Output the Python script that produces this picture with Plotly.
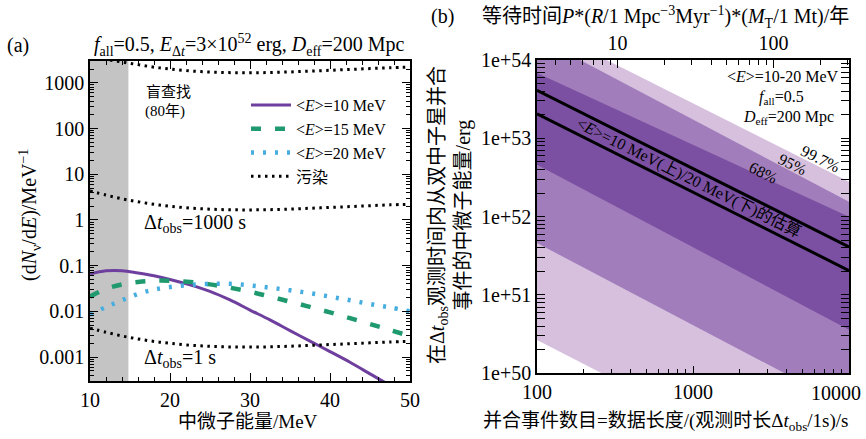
import math
import plotly.graph_objects as go

# ---------------- data: panel (a) ----------------
ENERGY_MEV = [10, 12, 14, 16, 18, 20, 22.5, 25, 27.5, 30, 32.5, 35, 37.5, 40, 42.5, 45, 47.5, 50]
SPEC_E10 = [0.066, 0.077, 0.0776, 0.069, 0.060, 0.050, 0.038, 0.0275, 0.0178, 0.0107, 0.0065,
            0.0038, 0.00224, 0.00132, 0.00077, 0.00043, 0.00024, 0.00013]
SPEC_E15 = [0.021, 0.031, 0.039, 0.044, 0.047, 0.047, 0.044, 0.039, 0.033, 0.027, 0.021,
            0.0163, 0.0125, 0.0095, 0.0071, 0.0053, 0.0039, 0.0029]
SPEC_E20 = [0.0085, 0.0125, 0.0175, 0.024, 0.030, 0.034, 0.038, 0.040, 0.040, 0.037, 0.033,
            0.029, 0.025, 0.021, 0.0175, 0.0145, 0.0122, 0.0100]
CONTAM_1S = [0.0043, 0.0035, 0.0029, 0.0025, 0.0022, 0.0020, 0.00182, 0.00172, 0.00167, 0.00166,
             0.00168, 0.00173, 0.00180, 0.00188, 0.00196, 0.00205, 0.00214, 0.0022]
CONTAM_1000S = [4.3, 3.5, 2.9, 2.5, 2.2, 2.0, 1.82, 1.72, 1.67, 1.66,
                1.68, 1.73, 1.80, 1.88, 1.96, 2.05, 2.14, 2.2]
CONTAM_BLIND = [4300, 3300, 2850, 2500, 2200, 2000, 1820, 1720, 1670, 1660,
                1680, 1730, 1800, 1880, 1960, 2050, 2140, 2200]
BLIND_E_MAX = 14.8
LEFT_YTICKS = [0.001, 0.01, 0.1, 1, 10, 100, 1000]
LEFT_YTICKTEXT = ["0.001", "0.01", "0.1", "1", "10", "100", "1000"]

# ---------------- data: panel (b) ----------------
N_ENDS = [100, 10000]
EST_E10 = [4.1e53, 4.1e51]
EST_E20 = [2.05e53, 2.05e51]
BAND68_UP = [6.8e53, 1.0e52]
BAND68_LO = [4.6e52, 3.6e50]
BAND95_UP = [1.95e54, 1.55e52]
BAND95_LO = [4.6e51, 3.7e49]
BAND997_UP = [2.8e54, 2.8e52]
BAND997_LO = [2.66e50, 2.4e48]
RIGHT_YTICKS = [1e50, 1e51, 1e52, 1e53, 1e54]
RIGHT_YTICKTEXT = ["1e+50", "1e+51", "1e+52", "1e+53", "1e+54"]
RIGHT_XTICKS = [100, 1000, 10000]
RIGHT_XTICKTEXT = ["100", "1000", "10000"]
WAIT_RANGE = [3.05, 305]
TOP_TICKS = [10, 100]
TOP_TICKTEXT = ["10", "100"]

FONT = "Liberation Serif, Noto Sans CJK SC, serif"
W, H = 866, 439
PURPLE = "#6f3f9f"
GREEN = "#1f9a6e"
BLUE = "#45ade0"
C_LIGHT = "#d6c0de"
C_MED = "#a17dbb"
C_DARK = "#7b50a2"


def px(x):
    return x / W


def py(y):
    return 1 - y / H


def log_minor(lo, hi, mults=range(2, 10)):
    out = []
    for d in range(lo, hi + 1):
        for m in mults:
            out.append(float(m) * 10.0 ** d)
    return out


fig = go.Figure()

# panel (a)
fig.add_trace(go.Scatter(x=ENERGY_MEV, y=SPEC_E10, mode="lines", line=dict(color=PURPLE, width=3, shape="spline"),
                         name="&lt;<i>E</i>&gt;=10 MeV", xaxis="x", yaxis="y"))
fig.add_trace(go.Scatter(x=ENERGY_MEV, y=SPEC_E15, mode="lines",
                         line=dict(color=GREEN, width=4.5, dash="10px,14px", shape="spline"),
                         name="&lt;<i>E</i>&gt;=15 MeV", xaxis="x", yaxis="y"))
fig.add_trace(go.Scatter(x=ENERGY_MEV, y=SPEC_E20, mode="lines",
                         line=dict(color=BLUE, width=4.5, dash="3px,9px", shape="spline"),
                         name="&lt;<i>E</i>&gt;=20 MeV", xaxis="x", yaxis="y"))
for i, arr in enumerate([CONTAM_1S, CONTAM_1000S, CONTAM_BLIND]):
    fig.add_trace(go.Scatter(x=ENERGY_MEV, y=arr, mode="lines",
                             line=dict(color="black", width=3, dash="2.5px,4.5px", shape="spline"),
                             name="污染", showlegend=(i == 0), xaxis="x", yaxis="y"))

# panel (b) bands
for up, lo, col in [(BAND997_UP, BAND997_LO, C_LIGHT), (BAND95_UP, BAND95_LO, C_MED), (BAND68_UP, BAND68_LO, C_DARK)]:
    fig.add_trace(go.Scatter(x=N_ENDS + N_ENDS[::-1], y=up + lo[::-1], mode="lines", fill="toself",
                             fillcolor=col, line=dict(width=0, color=col), showlegend=False,
                             hoverinfo="skip", xaxis="x2", yaxis="y2"))
for est in [EST_E10, EST_E20]:
    fig.add_trace(go.Scatter(x=N_ENDS, y=est, mode="lines", line=dict(color="black", width=3),
                             showlegend=False, xaxis="x2", yaxis="y2"))
# invisible trace for the top (waiting time) axis
fig.add_trace(go.Scatter(x=WAIT_RANGE, y=[RIGHT_YTICKS[0], RIGHT_YTICKS[0]], mode="lines",
                         line=dict(width=0), opacity=0, showlegend=False, hoverinfo="skip",
                         xaxis="x3", yaxis="y2"))

axis_common = dict(showline=True, linecolor="black", linewidth=1.5, ticks="inside", ticklen=8,
                   tickwidth=1.2, tickcolor="black", showgrid=False, zeroline=False, automargin=False,
                   tickfont=dict(family=FONT, size=20, color="black"))

fig.update_layout(
    width=W, height=H, margin=dict(l=0, r=0, t=0, b=0, autoexpand=False),
    paper_bgcolor="white", plot_bgcolor="white",
    font=dict(family=FONT, color="black"),
    xaxis=dict(domain=[px(90), px(410)], range=[10, 50], dtick=10, mirror="allticks", anchor="y",
               minor=dict(dtick=2, ticks="inside", ticklen=4, tickcolor="black"), **axis_common),
    yaxis=dict(domain=[py(381), py(61)], type="log", range=[math.log10(3e-4), math.log10(3000)],
               tickvals=LEFT_YTICKS, ticktext=LEFT_YTICKTEXT, mirror="allticks", anchor="x",
               minor=dict(tickvals=log_minor(-4, 3), ticks="inside", ticklen=4, tickcolor="black"),
               **axis_common),
    # last bottom label is drawn as an annotation (shifted inward so it stays inside the page)
    xaxis2=dict(domain=[px(537), px(849)], type="log", range=[2, 4], tickvals=RIGHT_XTICKS,
                ticktext=RIGHT_XTICKTEXT[:-1] + [""], mirror=True, anchor="y2",
                minor=dict(tickvals=log_minor(2, 3), ticks="inside", ticklen=5, tickcolor="black"),
                **axis_common),
    xaxis3=dict(type="log", range=[math.log10(WAIT_RANGE[0]), math.log10(WAIT_RANGE[1])],
                overlaying="x2", side="top", anchor="y2", tickvals=TOP_TICKS, ticktext=TOP_TICKTEXT,
                minor=dict(tickvals=log_minor(0, 2), ticks="inside", ticklen=5, tickcolor="black"),
                **axis_common),
    yaxis2=dict(domain=[py(373.3), py(60)], type="log", range=[50, 54], tickvals=RIGHT_YTICKS,
                ticktext=RIGHT_YTICKTEXT, mirror="allticks", anchor="x2",
                minor=dict(tickvals=log_minor(50, 53), ticks="inside", ticklen=5, tickcolor="black"),
                **axis_common),
    legend=dict(x=px(392), y=py(88), xanchor="right", yanchor="top", bgcolor="rgba(0,0,0,0)",
                font=dict(family=FONT, size=16, color="black"), itemwidth=40, tracegroupgap=0),
    shapes=[dict(type="rect", xref="x", yref="y domain", x0=10, x1=BLIND_E_MAX, y0=0, y1=1,
                 fillcolor="#c4c4c4", line=dict(width=0), layer="below")],
)

ann = []


def A(text, x, y, size=20, **kw):
    d = dict(text=text, x=x, y=y, xref="paper", yref="paper", showarrow=False,
             xanchor="center", yanchor="middle",
             font=dict(family=FONT, size=size, color="black"))
    d.update(kw)
    ann.append(d)


A("(a)", px(18), py(45))
A("<i>f</i><sub>all</sub>=0.5, <i>E</i><sub>Δ<i>t</i></sub>=3×10<sup>52</sup> erg, <i>D</i><sub>eff</sub>=200 Mpc",
  px(250), py(45))
A("(b)", px(442), py(17))
A("等待时间<i>P</i>*(<i>R</i>/1 Mpc<sup>−3</sup>Myr<sup>−1</sup>)*(<i>M</i><sub>T</sub>/1 Mt)/年", px(665), py(17))
A("(d<i>N</i><sub>ν</sub>/d<i>E</i>)/MeV<sup>−1</sup>", px(30), py(215), textangle=-90)
A("中微子能量/MeV", px(248), py(421), size=19)
A("在Δ<i>t</i><sub>obs</sub>观测时间内从双中子星并合<br>事件的中微子能量/erg", px(450), py(215), textangle=-90)
A("并合事件数目=数据长度/(观测时长Δ<i>t</i><sub>obs</sub>/1s)/s", px(666), py(422), size=19)
A("盲查找", px(168), py(92), size=15)
A("(80年)", px(165), py(112), size=15)
A("Δ<i>t</i><sub>obs</sub>=1000 s", px(142), py(223), xanchor="left")
A("Δ<i>t</i><sub>obs</sub>=1 s", px(142), py(358), xanchor="left")
A("&lt;<i>E</i>&gt;=10-20 MeV", px(783), py(77), size=16)
A("<i>f</i><sub>all</sub>=0.5", px(781), py(97), size=16)
A("<i>D</i><sub>eff</sub>=200 Mpc", px(788), py(117), size=16)
# bottom-right tick label of panel (b)
ann.append(dict(text=RIGHT_XTICKTEXT[-1], x=math.log10(RIGHT_XTICKS[-1]), y=py(393), xref="x2", yref="paper",
                showarrow=False, xanchor="right", yanchor="middle", xshift=14,
                font=dict(family=FONT, size=20, color="black")))


def D(text, n, e, size=16, angle=26.5):
    ann.append(dict(text=text, x=math.log10(n), y=math.log10(e), xref="x2", yref="y2", showarrow=False,
                    xanchor="center", yanchor="middle",
                    textangle=angle, font=dict(family=FONT, size=size, color="black")))


D("&lt;<i>E</i>&gt;=10 MeV(上)/20 MeV(下)的估算", 942, 3.2e52)
D("68%", 2812, 10 ** 52.57)
D("95%", 4375, 10 ** 52.672)
D("99.7%", 6520, 10 ** 52.745)

fig.update_layout(annotations=ann)
fig.write_html("out.html")
